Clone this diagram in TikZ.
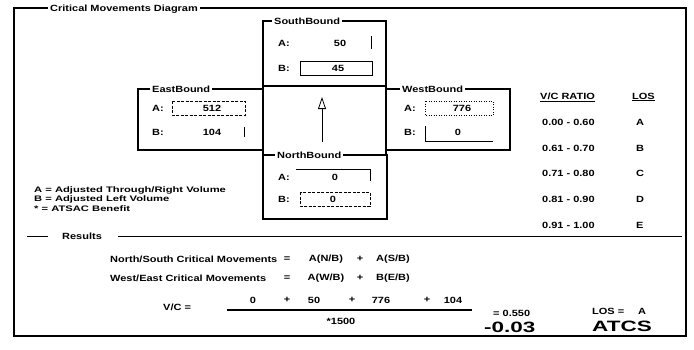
\documentclass[tikz,border=0pt]{standalone}
\usepackage{fontspec}
\setmainfont[FakeStretch=1.22]{Liberation Sans}
\newfontfamily\handfont[FakeStretch=1.5]{Liberation Sans}
\newfontfamily\legfont[FakeStretch=1.4]{Liberation Sans}
\usetikzlibrary{arrows.meta}
\begin{document}
\begin{tikzpicture}[x=1pt,y=-1pt,
  txt/.style={font=\fontsize{9}{10.8}\selectfont\bfseries, inner sep=0pt},
  lbl/.style={txt, anchor=west},
  leg/.style={font=\legfont\fontsize{8}{9.6}\selectfont\bfseries, inner sep=0pt, anchor=west},
  num/.style={txt, anchor=center},
  ttl/.style={txt, anchor=west, fill=white, inner xsep=2pt, inner ysep=1.5pt},
  hand/.style={font=\handfont\fontsize{15}{17}\selectfont\bfseries, inner sep=0pt, anchor=west},
  frame/.style={line width=1.3pt},
  grp/.style={line width=1.1pt},
  fld/.style={line width=0.7pt},
  dfld/.style={line width=0.6pt, dash pattern=on 3pt off 1.5pt},
  ]
\useasboundingbox[fill=white] (0,0) rectangle (694,349);
% outer frame
\draw[frame] (14,8) rectangle (686,336);
\draw[line width=2.6pt] (14,8) -- (14,336);
\node[ttl] (title) at (48,9) {Critical Movements Diagram};

% South bound group
\draw[grp] (263,21) rectangle (386,86);
\node[ttl] (sbt) at (272,21) {SouthBound};
\node[lbl] (sba) at (278,43) {A:};
\node[num] (sbav) at (340,43) {50};
\draw[fld] (371,36) -- (371,49);
\node[lbl] (sbb) at (278,68) {B:};
\draw[fld] (300,61) rectangle (372,75);
\node[num] (sbbv) at (338,68) {45};

% central square
\draw[grp] (263,86) -- (263,155);
\draw[grp] (386,86) -- (386,155);
\coordinate (arrS) at (322,142);
\coordinate (arrN) at (322,97);
\draw[line width=0.8pt, -{Triangle[open, length=12pt, width=8pt, line width=0.8pt]}] (arrS) -- (arrN);

% East bound group
\draw[grp] (138,89) rectangle (263,150);
\node[ttl] (ebt) at (150,89) {EastBound};
\node[lbl] (eba) at (152,108) {A:};
\draw[dfld] (172,101) rectangle (245,115);
\node[num] (ebav) at (212,108) {512};
\node[lbl] (ebb) at (152,132) {B:};
\node[num] (ebbv) at (212,132) {104};
\draw[fld] (244,127) -- (244,137);

% West bound group
\draw[grp] (386,89) rectangle (510,150);
\node[ttl] (wbt) at (400,89) {WestBound};
\node[lbl] (wba) at (404,108) {A:};
\draw[line width=0.5pt, dotted] (425,101) rectangle (493,115);
\node[num] (wbav) at (462,108) {776};
\node[lbl] (wbb) at (404,132) {B:};
\draw[fld] (425,126) -- (425,141) -- (493,141);
\node[num] (wbbv) at (458,132) {0};

% North bound group
\draw[grp] (263,155) rectangle (387,219);
\node[ttl] (nbt) at (275,155) {NorthBound};
\node[lbl] (nba) at (278,177) {A:};
\draw[fld] (296,169) -- (370,169) -- (370,181);
\node[num] (nbav) at (335,177) {0};
\node[lbl] (nbb) at (278,199) {B:};
\draw[dfld] (300,192) rectangle (370,206);
\node[num] (nbbv) at (333,199) {0};

% legend
\node[leg] (lga) at (34,190) {A = Adjusted Through/Right Volume};
\node[leg] (lgb) at (34,199.5) {B = Adjusted Left Volume};
\node[leg] (lgc) at (34,209) {* = ATSAC Benefit};

% V/C ratio table
\node[lbl] (vch) at (540,97) {\underline{V/C RATIO}};
\node[lbl] (losh) at (632,97) {\underline{LOS}};
\node[lbl] (r1) at (542,122) {0.00 - 0.60};
\node[lbl] (l1) at (636,122) {A};
\node[lbl] (r2) at (542,148) {0.61 - 0.70};
\node[lbl] (l2) at (636,148) {B};
\node[lbl] (r3) at (542,173) {0.71 - 0.80};
\node[lbl] (l3) at (636,173) {C};
\node[lbl] (r4) at (542,199) {0.81 - 0.90};
\node[lbl] (l4) at (636,199) {D};
\node[lbl] (r5) at (542,225) {0.91 - 1.00};
\node[lbl] (l5) at (636,225) {E};

% results
\draw[line width=0.8pt] (27,236) -- (48,236);
\draw[line width=0.8pt] (118,236) -- (682,236);
\node[lbl] (res) at (62,236) {Results};
\node[lbl] (ns) at (110,259) {North/South Critical Movements};
\node[num] (nseq) at (287,259) {=};
\node[num] (ns1) at (326,259) {A(N/B)};
\node[num] (nsp) at (360,259) {+};
\node[num] (ns2) at (393,259) {A(S/B)};
\node[lbl] (we) at (110,278) {West/East Critical Movements};
\node[num] (weeq) at (287,278) {=};
\node[num] (we1) at (326,278) {A(W/B)};
\node[num] (wep) at (360,278) {+};
\node[num] (we2) at (393,278) {B(E/B)};

\node[num] (v1) at (253,300) {0};
\node[num] (p1) at (287,300) {+};
\node[num] (v2) at (314,300) {50};
\node[num] (p2) at (352,300) {+};
\node[num] (v3) at (381,300) {776};
\node[num] (p3) at (427,300) {+};
\node[num] (v4) at (453,300) {104};
\node[lbl] (vc) at (163,307) {V/C =};
\draw[line width=1.2pt] (227,310) -- (472,310);
\node[num] (den) at (341,321) {*1500};
\node[lbl] (res1) at (493,313) {= 0.550};
\node[lbl] (los) at (592,311) {LOS =};
\node[lbl] (losv) at (638,311) {A};
\node[hand] (hw1) at (484,327) {-0.03};
\node[hand] (hw2) at (592,326) {ATCS};
\end{tikzpicture}
\end{document}
